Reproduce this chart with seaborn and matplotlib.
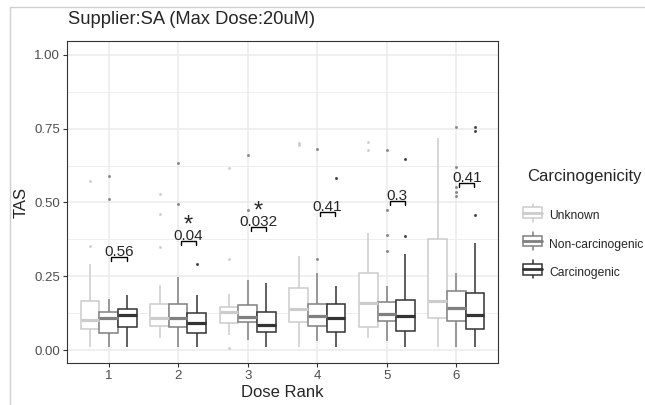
import numpy as np
import pandas as pd
import matplotlib
matplotlib.use("Agg")
import matplotlib.pyplot as plt
import seaborn as sns
from matplotlib.lines import Line2D
from matplotlib.patches import Patch, Rectangle
from matplotlib.legend_handler import HandlerBase
from matplotlib.ticker import MultipleLocator

doses = ["1", "2", "3", "4", "5", "6"]
groups = ["Unknown", "Non-carcinogenic", "Carcinogenic"]
colors = ["#CCCCCC", "#808080", "#333333"]

# box stats, one value per dose rank
q1 = {
    "Unknown":          [0.071, 0.081, 0.093, 0.094, 0.079, 0.107],
    "Non-carcinogenic": [0.056, 0.078, 0.096, 0.081, 0.099, 0.099],
    "Carcinogenic":     [0.079, 0.059, 0.062, 0.062, 0.064, 0.070],
}
med = {
    "Unknown":          [0.102, 0.107, 0.128, 0.138, 0.160, 0.167],
    "Non-carcinogenic": [0.107, 0.107, 0.113, 0.115, 0.122, 0.141],
    "Carcinogenic":     [0.118, 0.090, 0.085, 0.109, 0.115, 0.119],
}
q3 = {
    "Unknown":          [0.167, 0.156, 0.147, 0.209, 0.260, 0.375],
    "Non-carcinogenic": [0.128, 0.156, 0.154, 0.156, 0.164, 0.201],
    "Carcinogenic":     [0.139, 0.124, 0.130, 0.156, 0.169, 0.192],
}
lo = {
    "Unknown":          [0.011, 0.040, 0.050, 0.011, 0.040, 0.011],
    "Non-carcinogenic": [0.011, 0.011, 0.034, 0.031, 0.032, 0.011],
    "Carcinogenic":     [0.011, 0.011, 0.011, 0.011, 0.011, 0.011],
}
hi = {
    "Unknown":          [0.290, 0.220, 0.190, 0.320, 0.395, 0.720],
    "Non-carcinogenic": [0.172, 0.248, 0.238, 0.260, 0.218, 0.260],
    "Carcinogenic":     [0.186, 0.186, 0.226, 0.218, 0.324, 0.364],
}
outliers = {
    "Unknown":          [[0.354, 0.574], [0.348, 0.462, 0.530], [0.008, 0.307, 0.616],
                         [0.695, 0.700], [0.676, 0.706], []],
    "Non-carcinogenic": [[0.512, 0.589], [0.496, 0.632], [0.475, 0.660],
                         [0.308, 0.680], [0.336, 0.390, 0.475, 0.678],
                         [0.522, 0.537, 0.554, 0.621, 0.757]],
    "Carcinogenic":     [[], [0.293], [], [0.583], [0.387, 0.647], [0.457, 0.742, 0.755]],
}

pvals = ["0.56", "0.04", "0.032", "0.41", "0.3", "0.41"]
stars = ["", "*", "*", "", "", ""]
bracket_y = [0.316, 0.369, 0.418, 0.467, 0.506, 0.565]

# rebuild a sample per box that gives the read quartiles / whiskers
rows = []
for g in groups:
    for i, d in enumerate(doses):
        vals = ([lo[g][i]] + [q1[g][i]] * 8 + [med[g][i]] * 8 + [q3[g][i]] * 8
                + [hi[g][i]] + outliers[g][i])
        for v in vals:
            rows.append({"Dose Rank": d, "Carcinogenicity": g, "TAS": v})
df = pd.DataFrame(rows)

sns.set_style("white")
plt.rcParams["font.family"] = ["Liberation Sans", "DejaVu Sans"]

fig = plt.figure(figsize=(6.45, 4.05), dpi=100)
ax = fig.add_axes([67 / 645, 1 - 363 / 405, (498 - 67) / 645, (363 - 41) / 405])

sns.boxplot(data=df, x="Dose Rank", y="TAS", hue="Carcinogenicity",
            order=doses, hue_order=groups, palette=colors, width=0.8,
            showcaps=False, linewidth=1.1, legend=False, ax=ax,
            flierprops={"marker": "o", "markersize": 1.2})

for cont, c in zip(ax.containers, colors):
    for b in cont.boxes:
        b.set_facecolor("white")
        b.set_edgecolor(c)
        b.set_linewidth(1.1)
    for m in cont.medians:
        m.set_color(c)
        m.set_linewidth(2.3)
    for w in cont.whiskers:
        w.set_color(c)
        w.set_linewidth(1.1)
    for f in cont.fliers:
        f.set_markerfacecolor(c)
        f.set_markeredgecolor(c)
        f.set_alpha(0.8)

# p-value brackets
for i in range(len(doses)):
    x0, x1, y = i + 0.04, i + 0.26, bracket_y[i]
    ax.plot([x0, x0, x1, x1], [y - 0.014, y, y, y - 0.014], color="black", lw=1.0)
    ax.text((x0 + x1) / 2, y + 0.017, pvals[i], ha="center", va="center", fontsize=11)
    if stars[i]:
        ax.text((x0 + x1) / 2, y + 0.052, stars[i], ha="center", va="center", fontsize=17)

ax.set_xlim(-0.6, 5.6)
ax.set_ylim(-0.044, 1.047)
ax.set_yticks([0, 0.25, 0.5, 0.75, 1.0])
ax.set_yticklabels(["0.00", "0.25", "0.50", "0.75", "1.00"])
ax.yaxis.set_minor_locator(MultipleLocator(0.125))
ax.set_axisbelow(True)
ax.grid(True, which="major", color="#EBEBEB", lw=1.1)
ax.grid(True, which="minor", axis="y", color="#EBEBEB", lw=0.6)
ax.tick_params(which="major", length=3, width=0.8, color="#333333",
               labelcolor="#4D4D4D", labelsize=9.5, pad=2, left=True, bottom=True)
ax.tick_params(which="minor", length=0)
for s in ax.spines.values():
    s.set_color("#333333")
    s.set_linewidth(0.8)
ax.set_xlabel("Dose Rank", fontsize=12, labelpad=2)
ax.set_ylabel("TAS", fontsize=12, labelpad=4)

fig.text(68 / 645, 1 - 20 / 405, "Supplier:SA (Max Dose:20uM)", ha="left", va="center",
         fontsize=13.2)


class BoxKey(HandlerBase):
    def create_artists(self, legend, orig, xd, yd, w, h, fontsize, trans):
        c = orig.get_edgecolor()
        cx = xd + w / 2
        arts = [
            Line2D([cx, cx], [yd - 0.35 * h, yd + 1.35 * h], color=c, lw=1.1),
            Rectangle((xd, yd), w, h, facecolor="white", edgecolor=c, lw=1.1),
            Line2D([xd, xd + w], [yd + h / 2, yd + h / 2], color=c, lw=2.0),
        ]
        for a in arts:
            a.set_transform(trans)
        return arts


fig.text(527 / 645, 1 - 176 / 405, "Carcinogenicity", ha="left", va="center", fontsize=12)
handles = [Patch(facecolor="white", edgecolor=c) for c in colors]
leg = fig.legend(handles, groups, handler_map={Patch: BoxKey()},
                 loc="upper left", bbox_to_anchor=(518 / 645, 1 - 205 / 405),
                 frameon=False, fontsize=8.7, handlelength=1.6, handleheight=1.0,
                 labelspacing=1.3, handletextpad=0.6, borderaxespad=0)

# screenshot border
fig.add_artist(Line2D([10 / 645, 10 / 645], [0, 1 - 7 / 405], color="#D0D0D0", lw=1,
                      transform=fig.transFigure))
fig.add_artist(Line2D([10 / 645, 1], [1 - 7 / 405, 1 - 7 / 405], color="#D0D0D0", lw=1,
                      transform=fig.transFigure))

fig.savefig("out.png", dpi=100)
